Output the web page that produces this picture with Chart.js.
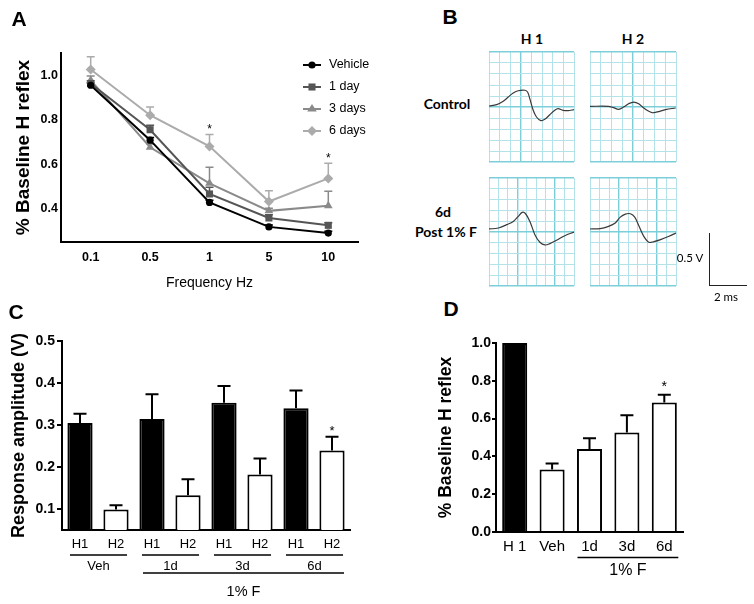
<!DOCTYPE html>
<html><head><meta charset="utf-8">
<script src="https://cdn.jsdelivr.net/npm/chart.js@4.4.1/dist/chart.umd.min.js"></script>
<style>
html,body{margin:0;padding:0;background:#fff;}
body{width:754px;height:604px;position:relative;overflow:hidden;font-family:'Liberation Sans',Arial,sans-serif;}
canvas{position:absolute;}
.t{position:absolute;transform:translate(-50%,-50%);white-space:nowrap;line-height:1;color:#000;}
.lbl{font-weight:bold;font-size:21px;font-family:'Liberation Sans',Arial,sans-serif;}
.cal{font-family:Lato,'Open Sans',sans-serif;}
.bar{position:absolute;background:#222;}
</style></head><body>
<canvas id="cA" width="380" height="300" style="left:0;top:0"></canvas>
<canvas id="cB1" width="89" height="114" style="left:487px;top:50px"></canvas>
<canvas id="cB2" width="90" height="114" style="left:588px;top:50px"></canvas>
<canvas id="cB3" width="89" height="112" style="left:487px;top:176px"></canvas>
<canvas id="cB4" width="90" height="112" style="left:588px;top:176px"></canvas>
<canvas id="cC" width="380" height="284" style="left:0;top:320px"></canvas>
<canvas id="cD" width="354" height="284" style="left:400px;top:320px"></canvas>

<div class="t lbl" style="left:19px;top:18px">A</div>
<div class="t lbl" style="left:450px;top:16px">B</div>
<div class="t lbl" style="left:16px;top:311px">C</div>
<div class="t lbl" style="left:451px;top:308px">D</div>

<div class="t cal" style="left:532px;top:39px;font-weight:bold;font-size:14px">H 1</div>
<div class="t cal" style="left:633px;top:39px;font-weight:bold;font-size:14px">H 2</div>
<div class="t cal" style="left:447px;top:104px;font-weight:bold;font-size:14px">Control</div>
<div class="t cal" style="left:443px;top:212px;font-weight:bold;font-size:14px">6d</div>
<div class="t cal" style="left:446px;top:232px;font-weight:bold;font-size:14px">Post 1% F</div>
<div class="t cal" style="left:690px;top:258px;font-size:11.5px">0.5 V</div>
<div class="t cal" style="left:726px;top:297px;font-size:11.5px">2 ms</div>
<div class="bar" style="left:709px;top:233px;width:1px;height:53px"></div>
<div class="bar" style="left:709px;top:285px;width:38px;height:1px"></div>

<script>
// ---------- Panel A data ----------
const freqLabels = ['0.1', '0.5', '1', '5', '10'];
const seriesNames = ['Vehicle', '1 day', '3 days', '6 days'];
const vehicleMean = [0.955, 0.708, 0.428, 0.318, 0.290];
const vehicleSem  = [0.010, 0.012, 0.010, 0.008, 0.008];
const day1Mean    = [0.963, 0.755, 0.466, 0.358, 0.325];
const day1Sem     = [0.012, 0.020, 0.030, 0.015, 0.012];
const day3Mean    = [0.977, 0.676, 0.514, 0.390, 0.413];
const day3Sem     = [0.020, 0.015, 0.072, 0.012, 0.065];
const day6Mean    = [1.026, 0.820, 0.680, 0.432, 0.536];
const day6Sem     = [0.057, 0.037, 0.054, 0.048, 0.068];
const day6Sig     = [false, false, true, false, true];
const aYTicks     = [0.4, 0.6, 0.8, 1.0];

// ---------- Panel B traces (grid units) ----------
const traceCtrlH1 = [[0,0.09],[0.72,0.21],[1.34,0.52],[1.81,0.91],[2.28,1.27],[2.75,1.48],[3.38,1.52],[3.63,1.36],[3.84,0.76],[4.16,-0.3],[4.47,-0.91],[4.88,-1.24],[5.25,-1.12],[5.72,-0.7],[6.19,-0.3],[6.5,-0.15],[6.97,-0.3],[7.44,-0.33],[8,-0.24]];
const traceCtrlH2 = [[0,0.06],[1.72,0.06],[2.19,-0.06],[2.66,-0.21],[3.13,0],[3.59,0.3],[4.06,0.45],[4.53,0.3],[5,-0.09],[5.47,-0.39],[5.78,-0.52],[6.25,-0.45],[7.03,-0.24],[7.97,-0.09]];
const trace6dH1 = [[0,0.28],[0.99,0.37],[1.87,0.68],[2.57,0.98],[3.1,1.45],[3.52,1.82],[3.87,1.69],[4.33,0.98],[4.86,-0.25],[5.39,-0.95],[5.92,-1.2],[6.44,-1.08],[7.15,-0.77],[8.03,-0.34],[9,0]];
const trace6dH2 = [[0,0.28],[1.06,0.31],[1.94,0.52],[2.64,0.83],[3.17,1.38],[3.7,1.66],[4.23,1.69],[4.68,1.38],[5.11,0.58],[5.63,-0.4],[6.16,-0.95],[6.69,-0.89],[7.39,-0.71],[8.27,-0.4],[9,-0.09]];

// ---------- Panel C data ----------
const cLabels = ['H1', 'H2', 'H1', 'H2', 'H1', 'H2', 'H1', 'H2'];
const cGroups = ['Veh', '1d', '3d', '6d'];
const cMean = [0.305, 0.099, 0.314, 0.133, 0.353, 0.182, 0.340, 0.239];
const cSem  = [0.022, 0.010, 0.059, 0.038, 0.040, 0.038, 0.042, 0.033];
const cSig  = [false, false, false, false, false, false, false, true];
const cYTicks = [0.1, 0.2, 0.3, 0.4, 0.5];
const treatmentLabel = '1% F';

// ---------- Panel D data ----------
const dLabels = ['H 1', 'Veh', '1d', '3d', '6d'];
const dMean = [1.0, 0.331, 0.439, 0.526, 0.685];
const dSem  = [0, 0.032, 0.057, 0.092, 0.041];
const dSig  = [false, false, false, false, true];
const dYTicks = [0, 0.2, 0.4, 0.6, 0.8, 1.0];

const FONT = "'Liberation Sans', Arial, sans-serif";
Chart.defaults.font.family = FONT;
Chart.defaults.color = '#000';
Chart.defaults.animation = false;

function drawMarker(ctx, style, r, x, y) {
  ctx.beginPath();
  if (style === 'circle') { ctx.arc(x, y, r, 0, Math.PI * 2); }
  else if (style === 'rect') { const s = r * Math.SQRT1_2; ctx.rect(x - s, y - s, 2 * s, 2 * s); }
  else if (style === 'triangle') { const h = r * 1.5; ctx.moveTo(x, y - r); ctx.lineTo(x + r * 0.87 * 1.1, y + r * 0.5); ctx.lineTo(x - r * 0.87 * 1.1, y + r * 0.5); ctx.closePath(); }
  else if (style === 'rectRot') { ctx.moveTo(x, y - r); ctx.lineTo(x + r, y); ctx.lineTo(x, y + r); ctx.lineTo(x - r, y); ctx.closePath(); }
  ctx.fill();
}

const errorBars = {
  id: 'errorBars',
  draw(chart, o) {
    const ctx = chart.ctx, ys = chart.scales.y;
    chart.data.datasets.forEach((ds, di) => {
      if (!ds.sem) return;
      const meta = chart.getDatasetMeta(di);
      ctx.save();
      ctx.strokeStyle = ds.errColor || '#000';
      ctx.lineWidth = o.width;
      meta.data.forEach((el, i) => {
        const v = ds.data[i], e = ds.sem[i];
        const x = el.x, y0 = ys.getPixelForValue(v), y1 = ys.getPixelForValue(v + e);
        if (e > 0) {
          ctx.beginPath();
          ctx.moveTo(x, y0); ctx.lineTo(x, y1);
          ctx.moveTo(x - o.cap, y1); ctx.lineTo(x + o.cap, y1);
          ctx.stroke();
        }
        if (ds.sig && ds.sig[i]) {
          ctx.fillStyle = '#000'; ctx.font = o.starFont;
          ctx.textAlign = 'center'; ctx.textBaseline = 'alphabetic';
          ctx.fillText('*', x, y1 - o.starGap);
        }
      });
      ctx.restore();
    });
  },
  beforeDatasetsDraw(chart, args, o) { if (o.before) this.draw(chart, o); },
  afterDatasetsDraw(chart, args, o) { if (!o.before) this.draw(chart, o); }
};

const insideLegend = {
  id: 'insideLegend',
  afterDraw(chart, args, o) {
    const ctx = chart.ctx;
    chart.data.datasets.forEach((ds, i) => {
      const y = o.y + i * o.gap;
      ctx.save();
      ctx.strokeStyle = ds.borderColor; ctx.lineWidth = 2;
      ctx.beginPath(); ctx.moveTo(o.x, y); ctx.lineTo(o.x + o.len, y); ctx.stroke();
      ctx.fillStyle = ds.pointBackgroundColor;
      drawMarker(ctx, ds.pointStyle, ds.pointRadius, o.x + o.len / 2, y);
      ctx.fillStyle = '#000'; ctx.font = o.font;
      ctx.textAlign = 'left'; ctx.textBaseline = 'middle';
      ctx.fillText(ds.label, o.x + o.textOff, y);
      ctx.restore();
    });
  }
};

const groupAnno = {
  id: 'groupAnno',
  afterDraw(chart, args, o) {
    const xs = chart.scales.x, ctx = chart.ctx, b = chart.chartArea.bottom;
    ctx.save();
    ctx.strokeStyle = '#000'; ctx.fillStyle = '#000';
    ctx.textAlign = 'center'; ctx.textBaseline = 'middle';
    (o.items || []).forEach(g => {
      const x1 = xs.getPixelForValue(g.from) - g.padL, x2 = xs.getPixelForValue(g.to) + g.padR;
      ctx.lineWidth = g.lw;
      ctx.beginPath(); ctx.moveTo(x1, b + g.lineOff); ctx.lineTo(x2, b + g.lineOff); ctx.stroke();
      if (g.text) { ctx.font = g.font; ctx.fillText(g.text, (x1 + x2) / 2, b + g.textOff); }
    });
    ctx.restore();
  }
};

// ---------- Panel A ----------
const aStyles = [
  {c: '#000000', s: 'circle', r: 3.6},
  {c: '#555555', s: 'rect', r: 5},
  {c: '#8a8a8a', s: 'triangle', r: 5},
  {c: '#ababab', s: 'rectRot', r: 5}
];
const aMeans = [vehicleMean, day1Mean, day3Mean, day6Mean];
const aSems = [vehicleSem, day1Sem, day3Sem, day6Sem];
new Chart(document.getElementById('cA'), {
  type: 'line',
  data: {
    labels: freqLabels,
    datasets: seriesNames.map((n, i) => ({
      label: n, data: aMeans[i], sem: aSems[i], sig: i === 3 ? day6Sig : null,
      borderColor: aStyles[i].c, errColor: aStyles[i].c, borderWidth: 2,
      pointStyle: aStyles[i].s, pointRadius: aStyles[i].r,
      pointBackgroundColor: aStyles[i].c, pointBorderColor: aStyles[i].c, pointBorderWidth: 0,
      tension: 0
    }))
  },
  options: {
    responsive: false,
    layout: {padding: {top: 53, right: 22, left: 0, bottom: 0}},
    plugins: {
      legend: {display: false}, tooltip: {enabled: false},
      errorBars: {before: true, width: 1.5, cap: 4, starFont: '12px ' + FONT, starGap: 1},
      insideLegend: {x: 303, y: 65, gap: 22, len: 18, textOff: 26, font: '12.5px ' + FONT}
    },
    scales: {
      x: {
        type: 'category', offset: true,
        grid: {display: false, drawTicks: false},
        border: {display: true, color: '#000', width: 2},
        ticks: {font: {size: 12.5, weight: 'bold'}, padding: 8, maxRotation: 0},
        title: {display: true, text: 'Frequency Hz', font: {size: 14}, padding: {top: 0, bottom: 8.6}},
        afterFit: s => { s.height = 58; }
      },
      y: {
        min: 0.25, max: 1.1,
        afterBuildTicks: s => { s.ticks = aYTicks.map(v => ({value: v})); },
        grid: {display: false, drawTicks: false},
        border: {display: true, color: '#000', width: 2},
        ticks: {font: {size: 12.5, weight: 'bold'}, padding: 3, callback: v => v.toFixed(1)},
        title: {display: true, text: '% Baseline H reflex', font: {size: 19, weight: 'bold'}, padding: {top: 12.6, bottom: 0}},
        afterFit: s => { s.width = 61; }
      }
    }
  },
  plugins: [errorBars, insideLegend]
});

// ---------- Panel B ----------
const GRID_MIN = '#b3e3e8', GRID_MAJ = '#7ccfd9';
function traceChart(id, pts, nCols, majCols) {
  new Chart(document.getElementById(id), {
    type: 'line',
    data: {datasets: [{data: pts.map(p => ({x: p[0], y: p[1]})), borderColor: '#3a3a3a', borderWidth: 1.2, pointRadius: 0, tension: 0.35}]},
    options: {
      responsive: false,
      layout: {padding: 2},
      plugins: {legend: {display: false}, tooltip: {enabled: false}},
      scales: {
        x: {
          type: 'linear', min: 0, max: nCols,
          ticks: {display: false, stepSize: 1},
          border: {display: false},
          grid: {drawTicks: false,
            color: c => majCols.includes(c.tick.value) ? GRID_MAJ : GRID_MIN,
            lineWidth: c => majCols.includes(c.tick.value) ? 1.4 : 1},
          afterFit: s => { s.height = 0; }
        },
        y: {
          type: 'linear', min: -5, max: 5,
          ticks: {display: false, stepSize: 1},
          border: {display: false},
          grid: {drawTicks: false,
            color: c => [5, 0, -5].includes(c.tick.value) ? GRID_MAJ : GRID_MIN,
            lineWidth: c => [5, 0, -5].includes(c.tick.value) ? 1.6 : 1},
          afterFit: s => { s.width = 0; }
        }
      }
    }
  });
}
traceChart('cB1', traceCtrlH1, 8, [3]);
traceChart('cB2', traceCtrlH2, 8, [4]);
traceChart('cB3', trace6dH1, 9, [3, 7]);
traceChart('cB4', trace6dH2, 9, [3, 7]);

// ---------- Panel C ----------
const cItems = cGroups.map((g, k) => ({from: 2 * k, to: 2 * k + 1, padL: 10, padR: 11, lw: 1.5, lineOff: 25, text: g, textOff: 36, font: '13px ' + FONT}));
cItems.push({from: 2, to: 7, padL: 9, padR: 12, lw: 1.5, lineOff: 43, text: treatmentLabel, textOff: 62, font: '14.5px ' + FONT});
new Chart(document.getElementById('cC'), {
  type: 'bar',
  data: {
    labels: cLabels,
    datasets: [{
      data: cMean, sem: cSem, sig: cSig, errColor: '#000',
      backgroundColor: cLabels.map(l => l === 'H1' ? '#000' : '#fff'),
      borderColor: '#000', borderWidth: 2,
      barPercentage: 0.7, categoryPercentage: 1
    }]
  },
  options: {
    responsive: false,
    layout: {padding: {top: 21, right: 30, left: 0, bottom: 0}},
    plugins: {
      legend: {display: false}, tooltip: {enabled: false},
      errorBars: {before: false, width: 2, cap: 6.5, starFont: '13px ' + FONT, starGap: 2},
      groupAnno: {items: cItems}
    },
    scales: {
      x: {
        grid: {display: false, drawTicks: false},
        border: {display: true, color: '#000', width: 2},
        ticks: {font: {size: 13}, padding: 7, maxRotation: 0},
        afterFit: s => { s.height = 74; }
      },
      y: {
        min: 0.05, max: 0.5,
        afterBuildTicks: s => { s.ticks = cYTicks.map(v => ({value: v})); },
        grid: {display: true, drawOnChartArea: false, drawTicks: true, tickLength: 5, color: '#000', lineWidth: 2},
        border: {display: true, color: '#000', width: 2},
        ticks: {font: {size: 14, weight: 'bold'}, padding: 2, callback: v => v.toFixed(1)},
        title: {display: true, text: 'Response amplitude (V)', font: {size: 18, weight: 'bold'}, padding: {top: 8.2, bottom: 0}},
        afterFit: s => { s.width = 62; }
      }
    }
  },
  plugins: [errorBars, groupAnno]
});

// ---------- Panel D ----------
new Chart(document.getElementById('cD'), {
  type: 'bar',
  data: {
    labels: dLabels,
    datasets: [{
      data: dMean, sem: dSem, sig: dSig, errColor: '#000',
      backgroundColor: dLabels.map((l, i) => i === 0 ? '#000' : '#fff'),
      borderColor: '#000', borderWidth: 2,
      barPercentage: 0.67, categoryPercentage: 1
    }]
  },
  options: {
    responsive: false,
    layout: {padding: {top: 23, right: 71, left: 0, bottom: 0}},
    plugins: {
      legend: {display: false}, tooltip: {enabled: false},
      errorBars: {before: false, width: 2, cap: 6.5, starFont: '14px ' + FONT, starGap: 4},
      groupAnno: {items: [{from: 2, to: 4, padL: 12, padR: 14, lw: 1.5, lineOff: 25.6, text: treatmentLabel, textOff: 39, font: '16px ' + FONT}]}
    },
    scales: {
      x: {
        grid: {display: false, drawTicks: false},
        border: {display: true, color: '#000', width: 2},
        ticks: {font: {size: 15}, padding: 6, maxRotation: 0},
        afterFit: s => { s.height = 72; }
      },
      y: {
        min: 0, max: 1.0,
        afterBuildTicks: s => { s.ticks = dYTicks.map(v => ({value: v})); },
        grid: {display: true, drawOnChartArea: false, drawTicks: true, tickLength: 4, color: '#000', lineWidth: 2},
        border: {display: true, color: '#000', width: 2},
        ticks: {font: {size: 14, weight: 'bold'}, padding: 1, callback: v => v.toFixed(1)},
        title: {display: true, text: '% Baseline H reflex', font: {size: 17.5, weight: 'bold'}, padding: {top: 35.5, bottom: 0}},
        afterFit: s => { s.width = 96; }
      }
    }
  },
  plugins: [errorBars, groupAnno]
});
</script>
</body></html>
